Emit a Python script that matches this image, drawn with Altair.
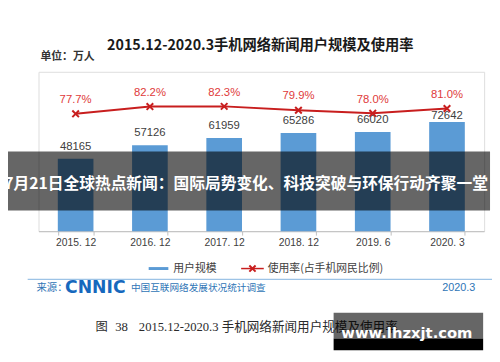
import altair as alt
import pandas as pd

# ---- data ----
categories = ["2015. 12", "2016. 12", "2017. 12", "2018. 12", "2019. 6", "2020. 3"]
users = [48165, 57126, 61959, 65286, 66020, 72642]
rate = [77.7, 82.2, 82.3, 79.9, 78.0, 81.0]

title_text = "2015.12-2020.3手机网络新闻用户规模及使用率"
unit_text = "单位：万人"
legend_bar = "用户规模"
legend_line = "使用率(占手机网民比例)"
source_label = "来源："
source_logo = "CNNIC"
source_name = "中国互联网络发展状况统计调查"
source_date = "2020.3"
caption_fig = "图"
caption_num = "38"
caption_text = "2015.12-2020.3 手机网络新闻用户规模及使用率"
banner_text = "7月21日全球热点新闻：国际局势变化、科技突破与环保行动齐聚一堂"
watermark_text = "www.lhzxjt.com"

df = pd.DataFrame({"cat": categories, "users": users, "rate": rate})

BLUE = "#5B9BD5"
RED = "#C81E1E"
RED_LBL = "#E03A3A"
SRC_BLUE = "#2E75B6"
XSHAPE = "M-1,-1L1,1M-1,1L1,-1"

# page -> view coordinates (view origin at page (39, 70))
def px(v):
    return v - 39

def py(v):
    return v - 70

base = alt.Chart(df)
xenc = alt.X("cat:N", sort=categories, title=None,
             scale=alt.Scale(paddingInner=0.52, paddingOuter=0.26),
             axis=alt.Axis(labelAngle=0, labelFontSize=10.5, labelColor="#404040",
                           domainColor="#BFBFBF", tickColor="#BFBFBF", tickSize=4,
                           tickBand="extent", labelPadding=3,
                           labelFont="Liberation Sans"))

yu = alt.Y("users:Q", axis=None, scale=alt.Scale(domain=[0, 106000]))
yr = alt.Y("rate:Q", axis=None, scale=alt.Scale(domain=[5.4, 103.6]))

bars = base.mark_bar(color=BLUE).encode(x=xenc, y=yu)
bar_lbl = base.mark_text(dy=-12, fontSize=11.5, color="#404040", font="Liberation Sans").encode(
    x=xenc, y=yu, text="users:Q").transform_filter(alt.datum.cat != categories[-1])
bar_lbl_last = base.mark_text(dy=-6, fontSize=11.5, color="#404040", font="Liberation Sans").encode(
    x=xenc, y=yu, text="users:Q").transform_filter(alt.datum.cat == categories[-1])

bars_layer = alt.layer(bars, bar_lbl, bar_lbl_last)

line = base.mark_line(color=RED, strokeWidth=2).encode(x=xenc, y=yr)
pts = base.mark_point(shape=XSHAPE, size=45, filled=False, strokeWidth=2, color=RED, opacity=1).encode(x=xenc, y=yr)
rate_lbl = base.mark_text(dy=-14, fontSize=11.5, color=RED_LBL, font="Liberation Sans").encode(
    x=xenc, y=yr, text="lbl:N").transform_calculate(lbl="format(datum.rate, '.1f') + '%'")

line_layer = alt.layer(line, pts, rate_lbl)

one = alt.Chart(pd.DataFrame({"k": [0]}))

def txt(text, x, y, align="left", size=11, color="#404040", weight="normal", font="Noto Sans CJK SC", baseline="middle"):
    return one.mark_text(text=text, align=align, baseline=baseline, fontSize=size, color=color,
                         fontWeight=weight, font=font).encode(x=alt.value(x), y=alt.value(y))

def rule(x1, x2, y, color, w):
    return one.mark_rule(color=color, strokeWidth=w).encode(x=alt.value(x1), x2=alt.value(x2), y=alt.value(y))

def rect(x1, x2, y1, y2, color, op):
    return one.mark_rect(color=color, opacity=op).encode(
        x=alt.value(x1), x2=alt.value(x2), y=alt.value(y1), y2=alt.value(y2))

deco = [
    txt(title_text, px(264.5), py(44), align="center", size=14.5, color="#1A1A1A", weight="bold"),
    txt(unit_text, px(41), py(55), size=11, color="#333333", weight="bold"),
    # legend
    rule(px(151), px(171), py(270), BLUE, 3),
    txt(legend_bar, px(176), py(270), size=11),
    rule(px(245), px(268), py(270), RED, 1.5),
    one.mark_point(shape=XSHAPE, size=40, filled=False, strokeWidth=2, color=RED, opacity=1).encode(
        x=alt.value(px(256.5)), y=alt.value(py(270))),
    txt(legend_line, px(272), py(270), size=11),
    # separator and source
    rule(px(28), px(500), py(281), "#9DC3E6", 1.5),
    txt(source_label, px(37), py(290), size=10.5, color=SRC_BLUE),
    txt(source_logo, px(66), py(290), size=17.5, color="#1668BD", weight=900, font="DejaVu Sans"),
    txt(source_name, px(133), py(290), size=9.8, color=SRC_BLUE),
    txt(source_date, px(483), py(290), align="right", size=11, color=SRC_BLUE, font="Liberation Sans"),
    # caption
    txt(caption_fig, px(97), py(329), size=12.5, color="#2A2A2A"),
    txt(caption_num, px(117), py(329), size=13, color="#2A2A2A", font="Liberation Serif"),
    txt(caption_text, px(141), py(329), size=12.8, color="#2A2A2A", font="Liberation Serif, Noto Sans CJK SC"),
]

overlay = [
    rect(px(3), px(498), py(151), py(211), "#000000", 0.6),
    txt(banner_text, px(250), py(184), align="center", size=16, color="#FFFFFF", weight="bold"),
    rect(px(339), px(491), py(315), py(341), "#000000", 0.6),
    rect(px(339), px(491), py(341), py(353), "#000000", 1),
    txt(watermark_text, px(413.5), py(341), align="center", size=15, color="#FFFFFF", weight="bold",
        font="DejaVu Sans", baseline="alphabetic"),
]

chart = alt.layer(bars_layer, line_layer, *deco, *overlay).resolve_scale(y="independent").properties(
    width=453, height=162,
    autosize=alt.AutoSizeParams(type="none"),
    padding={"left": 31, "top": 62, "right": 8, "bottom": 122},
).configure_view(strokeWidth=0).configure(background="white")

chart.save("out.html", embed_options={"renderer": "svg", "actions": False})
